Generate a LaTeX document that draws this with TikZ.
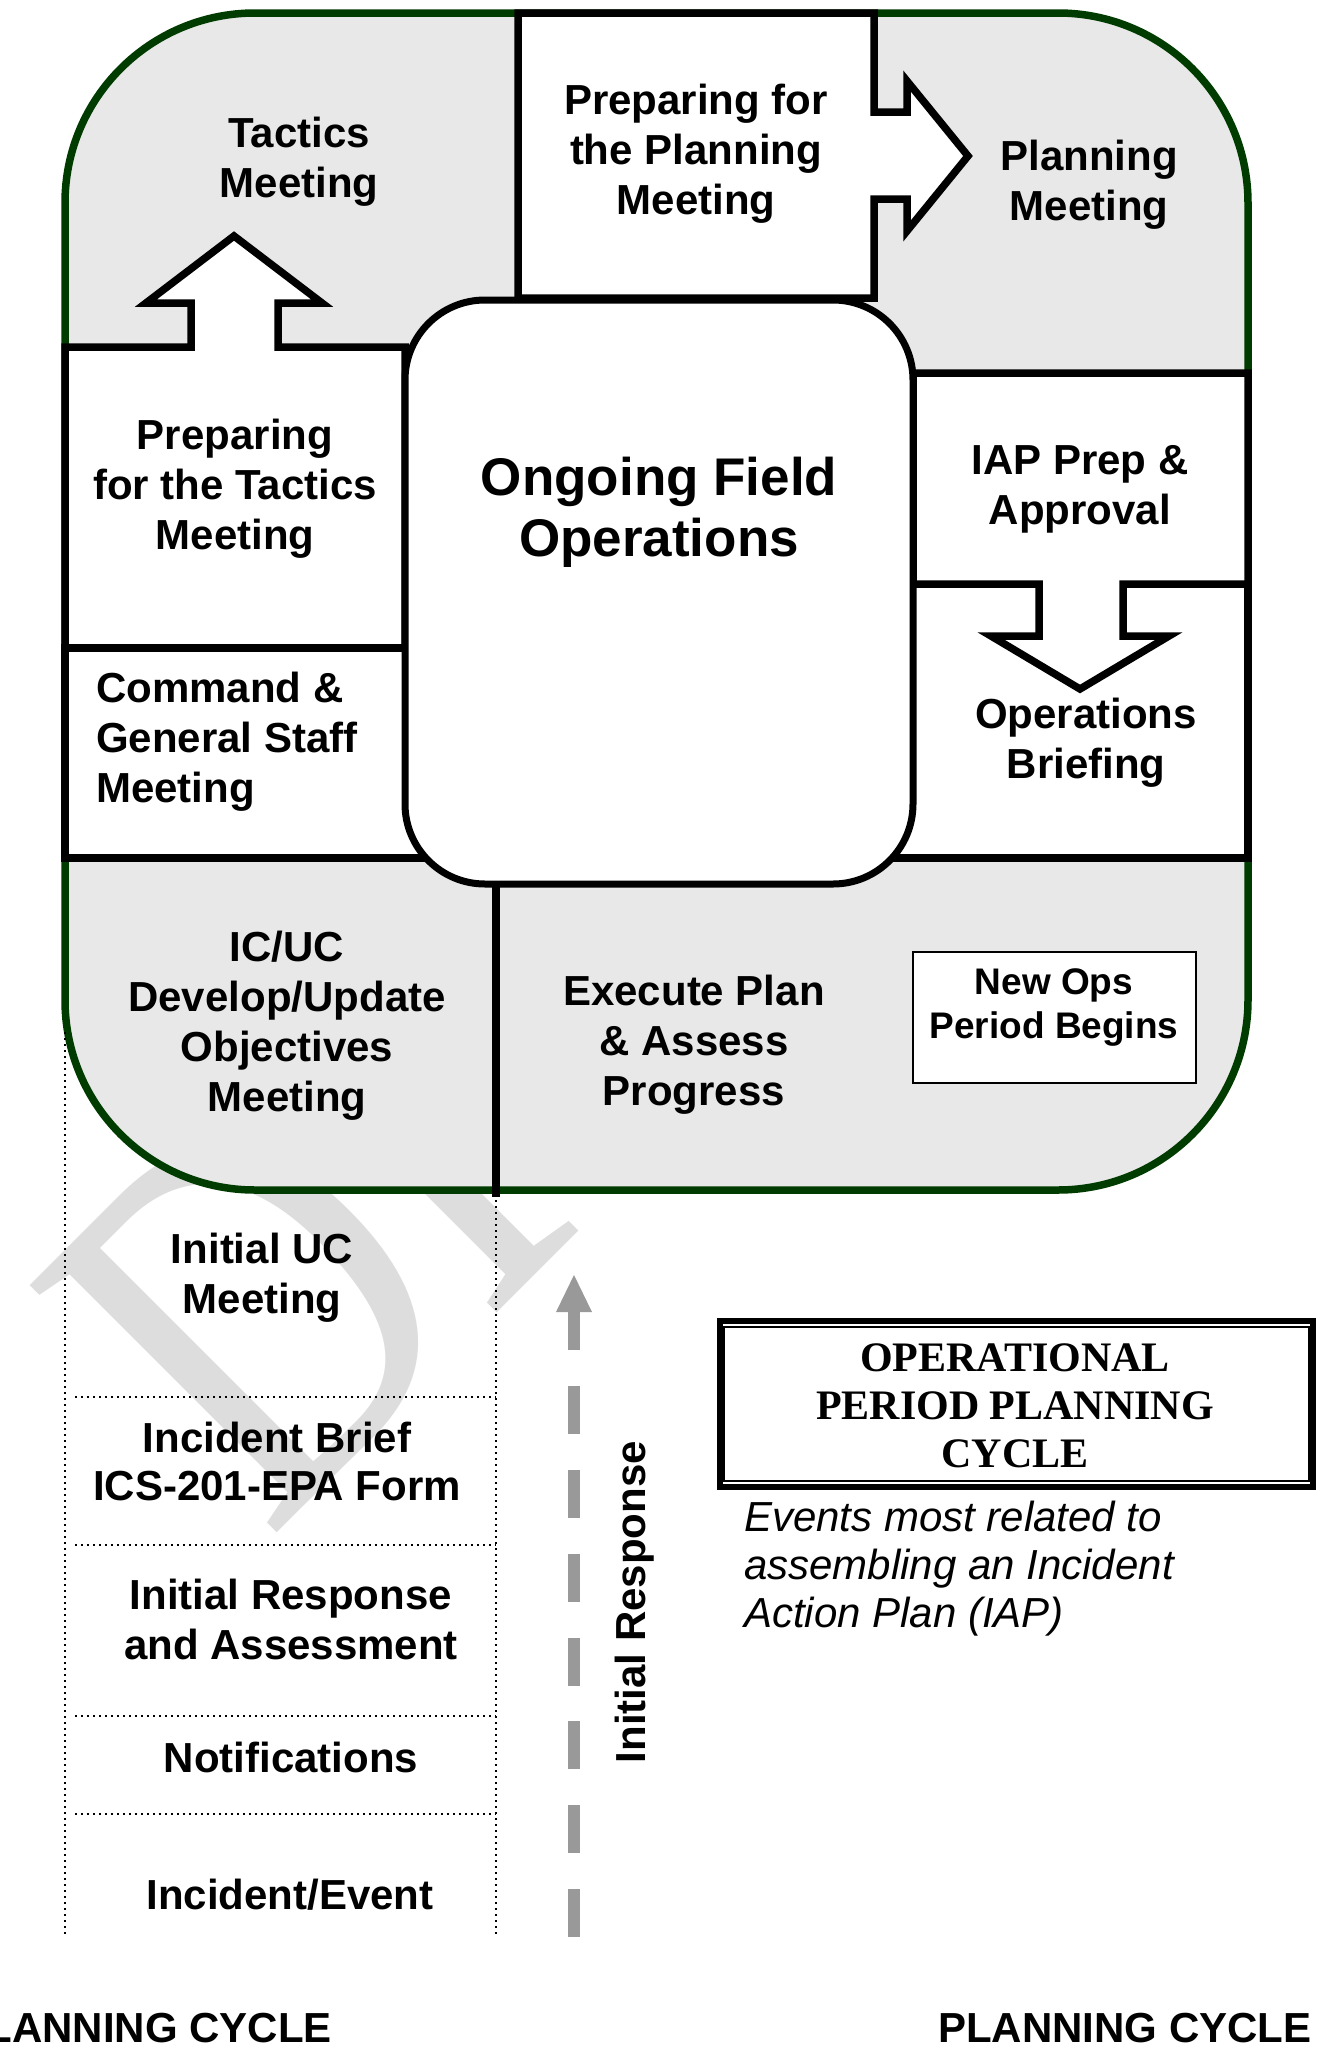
\documentclass[tikz,border=0pt]{standalone}
\usepackage{fontspec}
\setmainfont{Liberation Sans}
\newfontfamily\serifbf{Liberation Serif}
\usepackage{graphicx}
\definecolor{cyclegreen}{RGB}{0,60,0}
\definecolor{cyclegray}{RGB}{232,232,232}
\definecolor{wmgray}{RGB}{221,221,221}
\definecolor{arrowgray}{RGB}{153,153,153}
\begin{document}
\begin{tikzpicture}[x=1pt,y=-1pt,
  blk/.style={draw=black,line width=7.5pt,fill=white,line join=miter},
  lab/.style={font=\bfseries\fontsize{42}{50}\selectfont,align=center,inner sep=0pt,anchor=base},
  dots/.style={line width=2.3pt,dash pattern=on 2.3pt off 3.7pt},
]
\useasboundingbox (0,0) rectangle (1320,2045);
\fill[white] (0,0) rectangle (1320,2045);
% watermark (only its first letters show below the cycle)
\node[anchor=base west,rotate=45,inner sep=0pt,text=wmgray,font=\serifbf\fontsize{427}{427}\selectfont] (wm) at (268,1542) {\scalebox{1}[1.25]{DR}};
% outer cycle
\draw[fill=cyclegray,draw=cyclegreen,line width=7.5pt,rounded corners=190pt] (65,13) rectangle (1248,1190);
% preparing for planning box with arrow
\path[blk] (518,13) -- (874,13) -- (874,112) -- (907,112) -- (907,81) -- (968,156) -- (907,231) -- (907,199) -- (874,199) -- (874,298) -- (518,298) -- cycle;
% preparing for tactics box with arrow
\path[blk] (65,347) -- (191,347) -- (191,303) -- (146,303) -- (234,236) -- (322,303) -- (278,303) -- (278,347) -- (405,347) -- (405,648) -- (65,648) -- cycle;
% command box
\path[blk] (65,648) rectangle (440,858);
% operations briefing box
\path[blk] (870,584) rectangle (1248,858);
% IAP box with arrow
\path[blk] (913,373) -- (1248,373) -- (1248,584) -- (1123,584) -- (1123,636) -- (1169,636) -- (1080,689) -- (991,636) -- (1039,636) -- (1039,584) -- (913,584) -- cycle;
% central rounded rect
\draw[line width=7pt,fill=white,rounded corners=80pt] (405,300) rectangle (913,884);
% divider
\draw[line width=7.5pt] (496,884) -- (496,1197);
% new ops box
\draw[line width=2.5pt,fill=white] (913,952) rectangle (1196,1083);
% dotted stack
\draw[dots] (65,1032) -- (65,1935);
\draw[dots] (496,1200) -- (496,1935);
\foreach \yy in {1397,1545,1716,1814} \draw[dots] (75,\yy) -- (496,\yy);
% dashed arrow
\coordinate (irbot) at (574,1937);
\coordinate (irtop) at (574,1312);
\draw[arrowgray,line width=11.3pt,dash pattern=on 48pt off 35.8pt] (irbot) -- (irtop);
\fill[arrowgray] (574,1275) -- (592,1312) -- (556,1312) -- cycle;
% title box
\draw[line width=6pt] (720,1321) rectangle (1313,1487);
\draw[line width=2pt] (724,1327) rectangle (1309,1481);
% labels (anchor = baseline of last line)
\node[lab] (tactics) at (299,197) {Tactics\\Meeting};
\node[lab] (prepplan) at (696,214) {Preparing for\\the Planning\\Meeting};
\node[lab] (planning) at (1089,220) {Planning\\Meeting};
\node[lab] (preptac) at (235,549) {Preparing\\for the Tactics\\Meeting};
\node[lab,align=left,anchor=base west] (cgs) at (96,802) {Command \&\\General Staff\\Meeting};
\node[font=\bfseries\fontsize{53}{61}\selectfont,align=center,inner sep=0pt,anchor=base] (ongoing) at (659,556) {Ongoing Field\\Operations};
\node[lab] (iap) at (1080,524) {IAP Prep \&\\Approval};
\node[lab] (opsbrief) at (1086,778) {Operations\\Briefing};
\node[lab] (icuc) at (287,1111) {IC/UC\\Develop/Update\\Objectives\\Meeting};
\node[lab] (execute) at (694,1105) {Execute Plan\\\& Assess\\Progress};
\node[font=\bfseries\fontsize{37}{44}\selectfont,align=center,inner sep=0pt,anchor=base] (newops) at (1054,1038) {New Ops\\Period Begins};
\node[lab] (initucm) at (262,1313) {Initial UC\\Meeting};
\node[lab,font=\bfseries\fontsize{42}{48}\selectfont] (brief) at (277,1500) {Incident Brief\\ICS-201-EPA Form};
\node[lab] (initass) at (291,1659) {Initial Response\\and Assessment};
\node[lab] (notif) at (291,1772) {Notifications};
\node[lab] (incident) at (290,1909) {Incident/Event};
\node[lab,anchor=center,rotate=90] (initresp) at (635,1602) {Initial Response};
\node[font=\serifbf\bfseries\fontsize{42}{48}\selectfont,align=center,inner sep=0pt,anchor=base] (title) at (1015,1467) {OPERATIONAL\\PERIOD PLANNING\\CYCLE};
\node[font=\itshape\fontsize{42}{48}\selectfont,align=left,inner sep=0pt,anchor=base west] (events) at (744,1627) {Events most related to\\assembling an Incident\\Action Plan (IAP)};
\node[lab,anchor=base east] (pcl) at (332,2042) {LANNING CYCLE};
\node[lab,anchor=base west] (pcr) at (938,2042) {PLANNING CYCLE};
\end{tikzpicture}
\end{document}
